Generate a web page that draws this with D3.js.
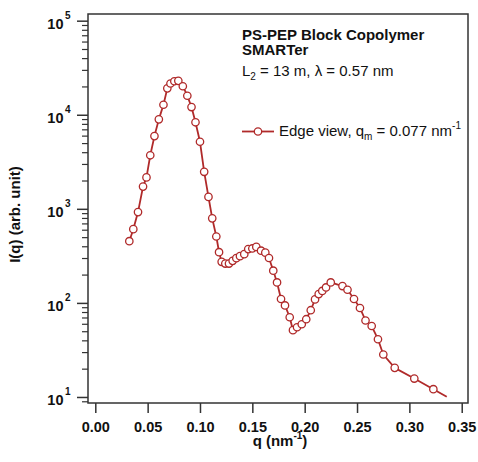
<!DOCTYPE html>
<html>
<head>
<meta charset="utf-8">
<script src="https://cdn.jsdelivr.net/npm/d3@7"></script>
<style>
html,body{margin:0;padding:0;background:#fff;}
svg{display:block;font-family:"Liberation Sans",Arial,sans-serif;}
</style>
</head>
<body>
<svg id="chart" width="478" height="462"></svg>
<script>
// ---- data ----
const qValues = [0.0325,0.0363,0.0408,0.0456,0.0489,0.0525,0.0565,0.0607,0.0651,0.0688,
  0.0718,0.0755,0.0793,0.0836,0.0879,0.0919,0.0957,0.1000,0.1040,0.1081,
  0.1117,0.1156,0.1182,0.1207,0.1242,0.1277,0.1312,0.1347,0.1382,0.1423,
  0.1461,0.1500,0.1538,0.1583,0.1624,0.1659,0.1700,0.1736,0.1774,0.1812,
  0.1857,0.1888,0.1927,0.1972,0.2015,0.2058,0.2099,0.2134,0.2168,0.2204,
  0.2249,0.2361,0.2409,0.2471,0.2528,0.2581,0.2640,0.2700,0.2751,0.2860,
  0.3047,0.3229,0.3357];
const intensity = [453,608,923,1722,2158,3707,5934,8933,12770,19090,
  21480,22720,22940,20100,15930,12070,8318,5164,2475,1339,
  792,508,346,273,262,262,280,299,314,330,
  373,379,394,359,342,300,220,165,110,94,
  70.4,51.3,55.1,59.3,67.1,83.6,109,124,134,146,
  165,151,138,110,88.3,65,56.8,41.1,28.3,20.4,
  15.7,12.1,10.05];
// the last point is only the end of the trace (no marker in the reference)
const xTickValues = [0.00,0.05,0.10,0.15,0.20,0.25,0.30,0.35];
const yDecades = [1,2,3,4,5];
const titleLines = ["PS-PEP Block Copolymer","SMARTer"];
const legendLabel = {main:"Edge view, q", sub:"m", rest:" = 0.077 nm", sup:"-1"};

const color = "#b02a2a";
const axisColor = "#333";

const svg = d3.select("#chart");
const L = 88, R = 468, T = 14, B = 403;

const x = d3.scaleLinear().domain([-0.00697, 0.356]).range([L, R]);
const y = d3.scaleLog().domain([Math.pow(10,0.936), Math.pow(10,5.071)]).range([B, T]);

// frame
svg.append("rect").attr("x",L).attr("y",T).attr("width",R-L).attr("height",B-T)
  .attr("fill","none").attr("stroke",axisColor).attr("stroke-width",1.5);

// x axis (major ticks only, below frame)
const xAxis = d3.axisBottom(x).tickValues(xTickValues).tickSize(10).tickPadding(9)
  .tickFormat(d3.format(".2f"));
const gx = svg.append("g").attr("transform",`translate(0,${B})`).call(xAxis);
gx.select(".domain").remove();
gx.selectAll(".tick line").attr("stroke",axisColor).attr("stroke-width",1.5);
gx.selectAll(".tick text").attr("fill","#111").style("font-size","14.5px").style("font-weight","bold")
  .style("font-family","'Liberation Sans',Arial,sans-serif");

// y axis: minor ticks
const minorVals = [];
yDecades.forEach(e => { for (let m=2;m<=9;m++){ const v=m*Math.pow(10,e-1); if (v>=y.domain()[0] && v<=y.domain()[1]) minorVals.push(v);} });
for (let m=2;m<=9;m++){ const v=m*Math.pow(10,5); if (v<=y.domain()[1]) minorVals.push(v); }
const yMinor = d3.axisLeft(y).tickValues(minorVals).tickSize(6).tickFormat("");
const gym = svg.append("g").attr("transform",`translate(${L},0)`).call(yMinor);
gym.select(".domain").remove();
gym.selectAll(".tick line").attr("stroke",axisColor).attr("stroke-width",1.2);

const yMajor = d3.axisLeft(y).tickValues(yDecades.map(e=>Math.pow(10,e))).tickSize(11).tickFormat("");
const gy = svg.append("g").attr("transform",`translate(${L},0)`).call(yMajor);
gy.select(".domain").remove();
gy.selectAll(".tick line").attr("stroke",axisColor).attr("stroke-width",1.5);

// y tick labels: 10^n
const yl = svg.append("g");
yDecades.forEach(e => {
  const t = yl.append("text").attr("x",63.5).attr("y",y(Math.pow(10,e))+8.5)
    .attr("fill","#111").style("font-size","14.5px").style("font-weight","bold");
  t.append("tspan").attr("text-anchor","end").text("10");
  yl.append("text").attr("x",65).attr("y",y(Math.pow(10,e))-1.5)
    .attr("fill","#111").style("font-size","10px").style("font-weight","bold").text(String(e));
});

// axis titles
const xt = svg.append("text").attr("x",280).attr("y",446).attr("text-anchor","middle")
  .attr("fill","#111").style("font-size","15px").style("font-weight","bold");
xt.append("tspan").text("q (nm");
xt.append("tspan").attr("dy",-7).style("font-size","10px").text("-1");
xt.append("tspan").attr("dy",7).text(")");

svg.append("text").attr("transform",`translate(20,${(T+B)/2+6}) rotate(-90)`)
  .attr("text-anchor","middle").attr("fill","#111")
  .style("font-size","15px").style("font-weight","bold").text("I(q) (arb. unit)");

// annotation text
svg.append("text").attr("x",242).attr("y",39.5).attr("fill","#111")
  .style("font-size","15px").style("font-weight","bold").text(titleLines[0]);
svg.append("text").attr("x",242).attr("y",54.5).attr("fill","#111")
  .style("font-size","15px").style("font-weight","bold").text(titleLines[1]);
const l3 = svg.append("text").attr("x",242).attr("y",76).attr("fill","#111").style("font-size","15px");
l3.append("tspan").text("L");
l3.append("tspan").attr("dy",4).style("font-size","10px").text("2");
l3.append("tspan").attr("dy",-4).text(" = 13 m, λ = 0.57 nm");

// data line and markers
const pts = qValues.map((q,i)=>({q, v:intensity[i]}));
const line = d3.line().x(d=>x(d.q)).y(d=>y(d.v));
svg.append("path").datum(pts).attr("d",line).attr("fill","none")
  .attr("stroke",color).attr("stroke-width",1.8).attr("stroke-linejoin","round");
svg.append("g").selectAll("circle").data(pts.slice(0,pts.length-1)).join("circle")
  .attr("cx",d=>x(d.q)).attr("cy",d=>y(d.v)).attr("r",3.7)
  .attr("fill","#fff").attr("stroke",color).attr("stroke-width",1.3);

// legend
const ly = 131.5;
svg.append("line").attr("x1",242).attr("x2",274).attr("y1",ly).attr("y2",ly)
  .attr("stroke",color).attr("stroke-width",1.8);
svg.append("circle").attr("cx",258).attr("cy",ly).attr("r",3.7)
  .attr("fill","#fff").attr("stroke",color).attr("stroke-width",1.3);
const lt = svg.append("text").attr("x",279).attr("y",136).attr("fill","#111").style("font-size","15px");
lt.append("tspan").text(legendLabel.main);
lt.append("tspan").attr("dy",4).style("font-size","10px").text(legendLabel.sub);
lt.append("tspan").attr("dy",-4).text(legendLabel.rest);
lt.append("tspan").attr("dy",-7).style("font-size","10px").text(legendLabel.sup);
</script>
</body>
</html>
